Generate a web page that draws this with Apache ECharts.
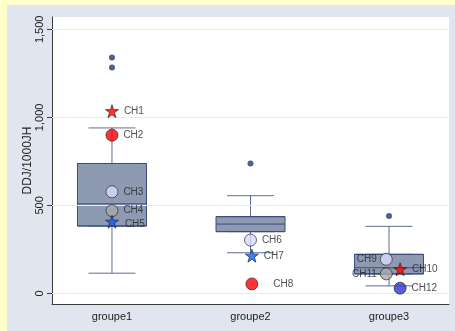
<!DOCTYPE html>
<html>
<head>
<meta charset="utf-8">
<script src="https://cdn.jsdelivr.net/npm/echarts@6/dist/echarts.min.js"></script>
<style>
  html, body { margin: 0; padding: 0; background: #ffffcc; }
  #chart { width: 455px; height: 331px; }
</style>
</head>
<body>
<div id="chart"></div>
<script>
// Group positions on the horizontal axis and their labels
const groupPositions = [1, 2, 3];
const groupLabels = ['groupe1', 'groupe2', 'groupe3'];

// Box statistics per group: min whisker, Q1, median, Q3, max whisker
const whiskerLow = [115, 231, 43];
const quartile1 = [383, 351, 111];
const medians = [509, 394, 146];
const quartile3 = [738, 436, 222];
const whiskerHigh = [940, 555, 381];

// Outside values (group position, value)
const outlierGroups = [1, 1, 2, 3];
const outlierValues = [1340, 1283, 738, 440];

// Highlighted centres: name, horizontal position, value
const centreNames = ['CH1', 'CH2', 'CH3', 'CH4', 'CH5', 'CH6', 'CH7', 'CH8', 'CH9', 'CH10', 'CH11', 'CH12'];
const centrePositions = [1.0, 1.0, 1.0, 1.0, 1.0, 2.0, 2.01, 2.01, 2.98, 3.08, 2.98, 3.08];
const centreValues = [1035, 899, 577, 470, 407, 303, 214, 54, 194, 137, 111, 30];

// Value-axis ticks
const yTicks = [0, 500, 1000, 1500];

const STAR = 'path://M50,2 L61,36 L97,36 L68,57 L79,92 L50,71 L21,92 L32,57 L3,36 L39,36 Z';
const markerStyle = {
  CH1:  { symbol: STAR, color: '#ff0000', size: 13 },
  CH2:  { symbol: 'circle', color: '#ff0000', size: 12 },
  CH3:  { symbol: 'circle', color: '#d9d9ff', size: 12 },
  CH4:  { symbol: 'circle', color: '#a9a9a9', size: 12 },
  CH5:  { symbol: STAR, color: '#0a5cff', size: 13 },
  CH6:  { symbol: 'circle', color: '#d9d9ff', size: 12 },
  CH7:  { symbol: STAR, color: '#0a5cff', size: 13 },
  CH8:  { symbol: 'circle', color: '#ff0000', size: 12 },
  CH9:  { symbol: 'circle', color: '#d9d9ff', size: 12 },
  CH10: { symbol: STAR, color: '#ff0000', size: 13 },
  CH11: { symbol: 'circle', color: '#a9a9a9', size: 12 },
  CH12: { symbol: 'circle', color: '#3535c8', size: 12 }
};
const labelSide = { CH9: 'left', CH11: 'left' };
const labelGap = { CH8: 15, CH9: 3, CH11: 3 };
const labelShift = { CH5: [1, 2] };

const FONT = 'Liberation Sans, Arial, sans-serif';

const whiskerData = groupPositions.map((x, i) =>
  [x, whiskerLow[i], quartile1[i], medians[i], quartile3[i], whiskerHigh[i]]);
const boxData = groupPositions.map((x, i) =>
  [x, quartile1[i], quartile1[i], medians[i], quartile3[i], quartile3[i]]);

const centreData = centreNames.map((name, i) => {
  const st = markerStyle[name];
  return {
    name: name,
    value: [centrePositions[i], centreValues[i]],
    symbol: st.symbol,
    symbolSize: st.size,
    itemStyle: { color: st.color, borderColor: '#1a1a1a', borderWidth: 0.8 },
    label: {
      position: labelSide[name] || 'right',
      distance: labelGap[name] !== undefined ? labelGap[name] : 5,
      offset: labelShift[name] || [0, 0]
    }
  };
});

const X_MIN = 0.567, X_MAX = 3.433;

const chart = echarts.init(document.getElementById('chart'), null, { renderer: 'canvas' });
chart.setOption({
  backgroundColor: '#ffffcc',
  animation: false,
  graphic: [{
    type: 'rect', left: 7, top: 5, z: -10,
    shape: { width: 448, height: 326 },
    style: { fill: '#e1e5f0' }
  }],
  grid: {
    left: 52, top: 17, right: 6, bottom: 27,
    show: true, backgroundColor: '#ffffff', borderWidth: 0
  },
  xAxis: [{
    type: 'value', min: X_MIN, max: X_MAX,
    axisLine: { onZero: false, lineStyle: { color: '#3a3a3a', width: 1 } },
    axisTick: { show: false },
    splitLine: { show: false },
    axisLabel: {
      customValues: groupPositions,
      formatter: v => groupLabels[groupPositions.indexOf(Math.round(v))] || '',
      color: '#222', fontFamily: FONT, fontSize: 11, margin: 7
    }
  }, {
    // twin axis so the whisker layer is laid out on its own, centred like the boxes
    type: 'value', min: X_MIN, max: X_MAX, show: false,
    splitLine: { show: false }
  }],
  yAxis: {
    type: 'value', min: -60, max: 1570,
    name: 'DDJ/1000JH', nameLocation: 'middle', nameGap: 18, nameRotate: 90,
    nameMoveOverlap: false,
    nameTextStyle: { color: '#222', fontFamily: FONT, fontSize: 12 },
    axisLine: { show: true, onZero: false, lineStyle: { color: '#3a3a3a', width: 1 } },
    axisTick: { show: true, customValues: yTicks, length: 5, lineStyle: { color: '#3a3a3a' } },
    splitLine: { show: false },
    axisLabel: {
      customValues: yTicks, rotate: 90, margin: 7,
      formatter: v => v.toLocaleString('en-US'),
      color: '#222', fontFamily: FONT, fontSize: 11
    }
  },
  series: [
    {
      // gridlines at the tick values, under everything else
      type: 'scatter', z: 1, data: [], silent: true,
      markLine: {
        silent: true, symbol: 'none', label: { show: false },
        lineStyle: { color: '#e6eaf3', width: 1, type: 'solid' },
        data: yTicks.map(v => ({ yAxis: v }))
      }
    },
    {
      type: 'boxplot', z: 2, xAxisIndex: 1, data: whiskerData, boxWidth: [47, 47],
      itemStyle: { color: '#8e9ab2', borderColor: '#5c6d95', borderWidth: 1 }
    },
    {
      type: 'boxplot', z: 3, xAxisIndex: 0, data: boxData, boxWidth: [69, 69],
      itemStyle: { color: '#8e9ab2', borderColor: '#3b4d7c', borderWidth: 1 }
    },
    {
      type: 'scatter', z: 4,
      data: outlierGroups.map((g, i) => [g, outlierValues[i]]),
      symbol: 'circle', symbolSize: 6,
      itemStyle: { color: '#1f3a70' }
    },
    {
      type: 'scatter', z: 5, data: centreData,
      label: {
        show: true, formatter: p => p.name,
        color: '#222', fontFamily: FONT, fontSize: 10
      }
    }
  ]
});
</script>
</body>
</html>
